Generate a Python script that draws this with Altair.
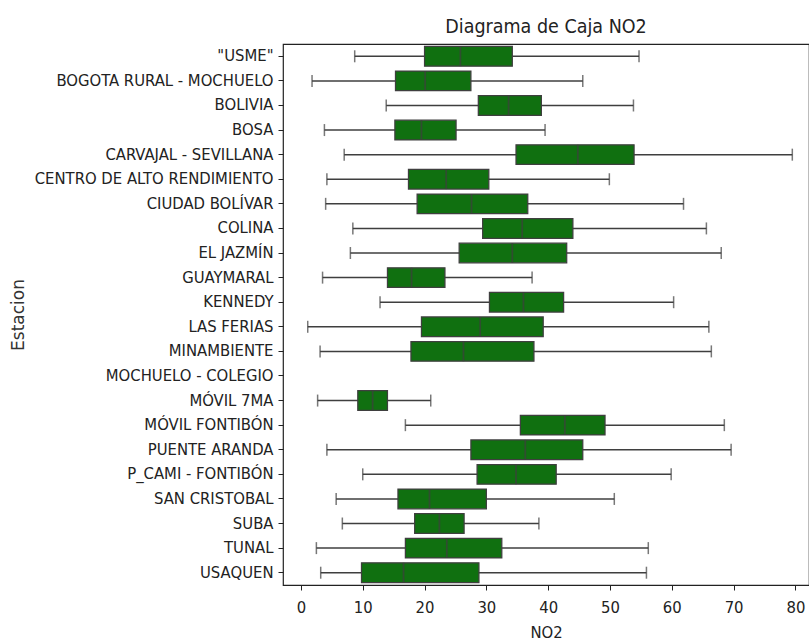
import altair as alt
import pandas as pd

stations = ['"USME"', "BOGOTA RURAL - MOCHUELO", "BOLIVIA", "BOSA", "CARVAJAL - SEVILLANA",
            "CENTRO DE ALTO RENDIMIENTO", "CIUDAD BOLÍVAR", "COLINA", "EL JAZMÍN", "GUAYMARAL",
            "KENNEDY", "LAS FERIAS", "MINAMBIENTE", "MOCHUELO - COLEGIO", "MÓVIL 7MA",
            "MÓVIL FONTIBÓN", "PUENTE ARANDA", "P_CAMI - FONTIBÓN", "SAN CRISTOBAL", "SUBA",
            "TUNAL", "USAQUEN"]
whisker_low = [8.7, 1.8, 13.8, 3.8, 7.0, 4.2, 4.0, 8.4, 8.0, 3.5, 12.8, 1.1, 3.1, None,
               2.7, 16.9, 4.2, 10.0, 5.7, 6.7, 2.5, 3.2]
q1 = [20.0, 15.3, 28.7, 15.2, 34.8, 17.4, 18.8, 29.4, 25.6, 14.0, 30.5, 19.5, 17.8, None,
      9.2, 35.5, 27.5, 28.5, 15.7, 18.4, 16.9, 9.8]
median = [25.8, 20.1, 33.6, 19.5, 44.8, 23.5, 27.6, 35.8, 34.2, 17.9, 36.0, 29.0, 26.3, None,
          11.6, 42.7, 36.3, 34.8, 20.8, 22.4, 23.6, 16.6]
q3 = [34.2, 27.5, 38.9, 25.1, 53.9, 30.4, 36.7, 44.0, 43.0, 23.3, 42.5, 39.2, 37.7, None,
      14.0, 49.2, 45.6, 41.3, 30.0, 26.4, 32.5, 28.8]
whisker_high = [54.7, 45.6, 53.8, 39.5, 79.5, 49.9, 61.9, 65.6, 68.0, 37.4, 60.3, 66.0, 66.4, None,
                21.0, 68.5, 69.6, 59.9, 50.7, 38.5, 56.2, 55.9]
x_ticks = [0, 10, 20, 30, 40, 50, 60, 70, 80]

df = pd.DataFrame({"Estacion": stations, "lo": whisker_low, "q1": q1, "med": median,
                   "q3": q3, "hi": whisker_high})

FONT = "DejaVu Sans Condensed, DejaVu Sans, sans-serif"
LINE = "#3f3f3f"
TXT = "#222222"

yenc = alt.Y("Estacion:N", sort=stations,
             scale=alt.Scale(domain=stations, paddingInner=0.2, paddingOuter=0.1),
             axis=alt.Axis(title="Estacion", titleFont="DejaVu Sans", titleFontSize=17,
                           titleFontWeight="normal", titleColor="#333333", titleX=-260,
                           titleBaseline="alphabetic",
                           labelFont=FONT, labelFontSize=16.5, labelColor=TXT, labelLimit=0,
                           labelPadding=5, tickSize=5, tickColor=TXT, domain=False))
xscale = alt.Scale(domain=[-2.9, 82.2], nice=False, zero=False)
xaxis = alt.Axis(title="NO2", values=x_ticks, grid=False, domain=False,
                 labelFont=FONT, labelFontSize=16.5, labelColor=TXT, labelPadding=9,
                 tickSize=5, tickColor=TXT, titleFont=FONT, titleFontSize=16.5,
                 titleFontWeight="normal", titleColor=TXT, titleY=52,
                 titleBaseline="alphabetic")

base = alt.Chart(df)

whiskers = base.mark_rule(color=LINE, strokeWidth=1.5).encode(
    x=alt.X("lo:Q", scale=xscale, axis=xaxis), x2="hi:Q", y=yenc)
boxes = base.mark_bar(color="#107010", stroke=LINE, strokeWidth=1.25).encode(
    x=alt.X("q1:Q", scale=xscale, axis=xaxis), x2="q3:Q", y=yenc)
medians = base.mark_tick(color=LINE, size=19.7, thickness=1.8).encode(
    x=alt.X("med:Q", scale=xscale, axis=xaxis), y=yenc)
caps_lo = base.mark_tick(color=LINE, size=12, thickness=1.5).encode(
    x=alt.X("lo:Q", scale=xscale, axis=xaxis), y=yenc)
caps_hi = base.mark_tick(color=LINE, size=12, thickness=1.5).encode(
    x=alt.X("hi:Q", scale=xscale, axis=xaxis), y=yenc)

chart = alt.layer(whiskers, boxes, medians, caps_lo, caps_hi).properties(
    width=526, height=541,
    title=alt.TitleParams("Diagrama de Caja NO2", font=FONT, fontSize=19.5,
                          fontWeight="normal", color=TXT, anchor="middle",
                          offset=12, baseline="alphabetic", dy=20),
    autosize=alt.AutoSizeParams(type="none"),
    padding={"left": 283, "top": 44, "right": 0, "bottom": 57},
    background="white",
).configure_view(stroke="#222", strokeWidth=1.2)

chart.save("out.html", embed_options={"renderer": "svg", "actions": False})
